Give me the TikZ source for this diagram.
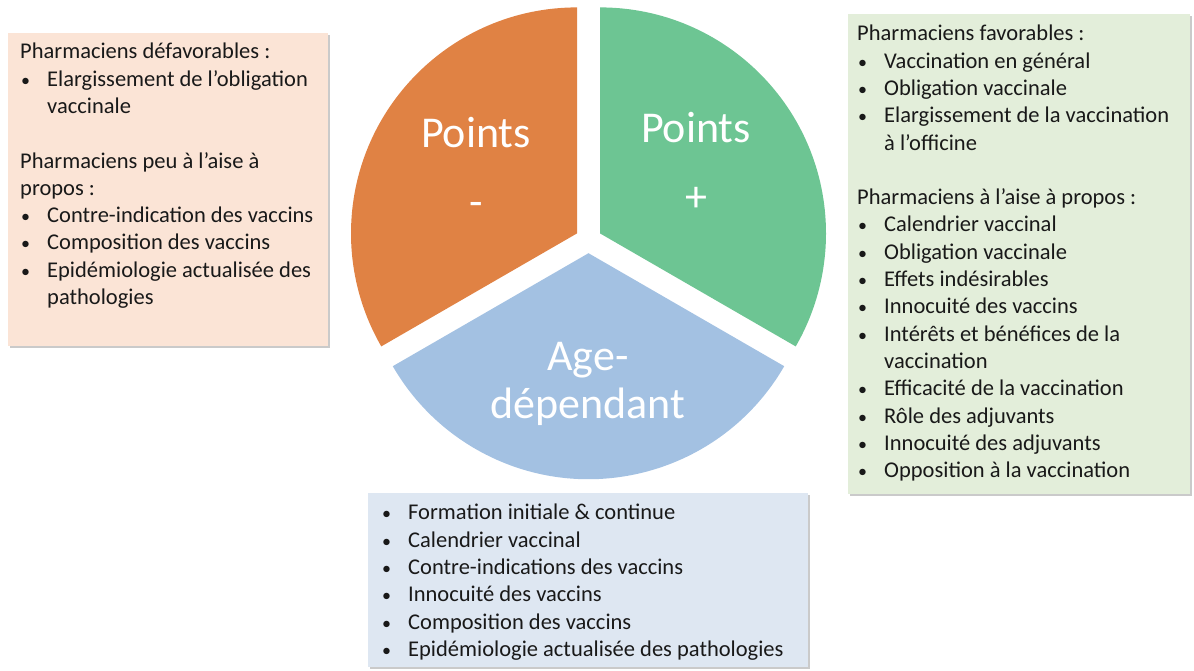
\documentclass[tikz,border=0pt]{standalone}
\usepackage{fontspec}
\setmainfont{Carlito}
\usetikzlibrary{shadows}
\definecolor{cOrange}{HTML}{E08244}
\definecolor{cGreen}{HTML}{6DC593}
\definecolor{cBlue}{HTML}{A3C1E2}
\definecolor{bOrange}{HTML}{FBE4D6}
\definecolor{bGreen}{HTML}{E3EEDA}
\definecolor{bBlue}{HTML}{DEE7F2}
\newcommand{\bul}{\makebox[27pt][l]{\hspace{1pt}{\fontsize{18}{18}\selectfont•}}}
\newcommand{\ind}{\hspace*{27pt}}
\begin{document}
\begin{tikzpicture}[x=1pt,y=-1pt,
  slicelabel/.style={text=white,font=\fontsize{44}{52}\selectfont,anchor=base,inner sep=0pt},
  listbox/.style={drop shadow={shadow xshift=1.5pt,shadow yshift=-2pt,fill=black!35,opacity=0.6}},
  listtext/.style={anchor=north west,align=left,inner sep=0pt,text=black!90,font=\fontsize{22.5}{27.3}\selectfont}]
\useasboundingbox (0,0) rectangle (1194,670);
\def\R{226}
% pie slices
\coordinate (oc) at (577,233.4);
\coordinate (gc) at (600,233.4);
\coordinate (bc) at (588.5,253.2);
\fill[cOrange] (oc) -- ++(-90:\R) arc[start angle=-90,end angle=-210,radius=\R] -- cycle;
\fill[cGreen] (gc) -- ++(-90:\R) arc[start angle=-90,end angle=30,radius=\R] -- cycle;
\fill[cBlue] (bc) -- ++(30:\R) arc[start angle=30,end angle=150,radius=\R] -- cycle;
\node[slicelabel] (om1) at (476,147) {Points};
\node[slicelabel] (om2) at (476,216) {-};
\node[slicelabel] (gp1) at (696,142) {Points};
\node[slicelabel] (gp2) at (696,211) {+};
\node[slicelabel] (ba1) at (588,370) {Age-};
\node[slicelabel] (ba2) at (588,418) {dépendant};
% boxes
\path[fill=bOrange,listbox] (8,33) rectangle (328,346);
\path[fill=bGreen,listbox] (848,14) rectangle (1190,494);
\path[fill=bBlue,listbox] (368,493) rectangle (808,667);
\node[listtext] (lt) at (20,43) {Pharmaciens défavorables :\\
\bul Elargissement de l’obligation\\
\ind vaccinale\\[27.3pt]
Pharmaciens peu à l’aise à\\
propos :\\
\bul Contre-indication des vaccins\\
\bul Composition des vaccins\\
\bul Epidémiologie actualisée des\\
\ind pathologies};
\node[listtext] (rt) at (857,25) {Pharmaciens favorables :\\
\bul Vaccination en général\\
\bul Obligation vaccinale\\
\bul Elargissement de la vaccination\\
\ind à l’officine\\[27.3pt]
Pharmaciens à l’aise à propos :\\
\bul Calendrier vaccinal\\
\bul Obligation vaccinale\\
\bul Effets indésirables\\
\bul Innocuité des vaccins\\
\bul Intérêts et bénéfices de la\\
\ind vaccination\\
\bul Efficacité de la vaccination\\
\bul Rôle des adjuvants\\
\bul Innocuité des adjuvants\\
\bul Opposition à la vaccination};
\node[listtext] (bt) at (381,504) {\bul Formation initiale \& continue\\
\bul Calendrier vaccinal\\
\bul Contre-indications des vaccins\\
\bul Innocuité des vaccins\\
\bul Composition des vaccins\\
\bul Epidémiologie actualisée des pathologies};
\end{tikzpicture}
\end{document}
